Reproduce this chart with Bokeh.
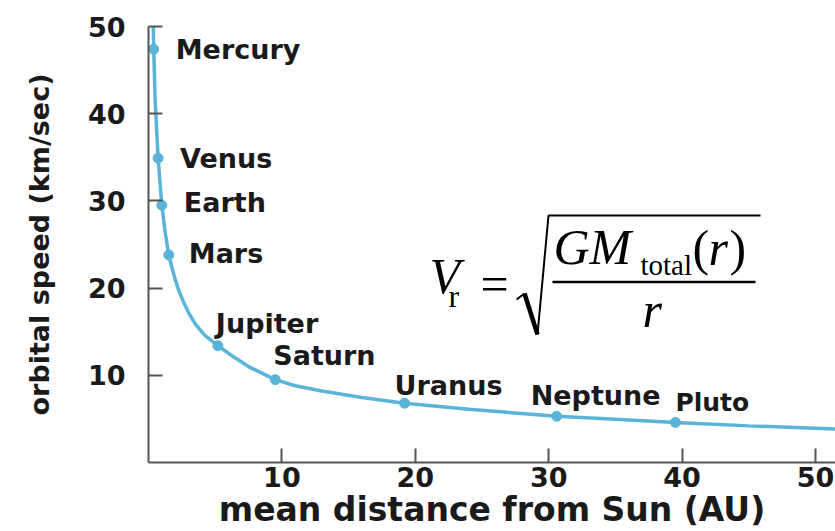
from bokeh.plotting import figure
from bokeh.models import ColumnDataSource, FixedTicker, Label
from bokeh.core.properties import value
from bokeh.embed import file_html
from bokeh.resources import INLINE

# Planets: mean distance from the Sun (AU) and orbital speed (km/s)
planets = ["Mercury", "Venus", "Earth", "Mars", "Jupiter",
           "Saturn", "Uranus", "Neptune", "Pluto"]
distance_au = [0.39, 0.72, 1.0, 1.52, 5.2, 9.5, 19.2, 30.6, 39.5]
speed_kms = [47.4, 34.9, 29.5, 23.8, 13.4, 9.5, 6.8, 5.3, 4.6]

# Points along the drawn rotation curve
curve_au = [0.36, 0.39, 0.5, 0.72, 1.0, 1.25, 1.52, 1.75, 2.0, 2.3, 2.6,
            3.0, 3.5, 4.2, 5.2, 6.2, 7.5, 9.5, 11.0, 13.0, 16.0, 19.2,
            24.0, 30.6, 35.0, 39.5, 45.0, 51.5]
curve_kms = [50.0, 47.4, 41.5, 34.9, 29.5, 26.4, 23.8, 22.4, 21.0, 19.6,
             18.5, 17.2, 15.9, 14.6, 13.4, 12.3, 11.0, 9.5, 8.8, 8.2,
             7.45, 6.8, 6.1, 5.3, 4.95, 4.6, 4.2, 3.85]

x_ticks = [10, 20, 30, 40, 50]
y_ticks = [10, 20, 30, 40, 50]

# Label placement (screen pixels) relative to each planet marker
label_dx = [22, 22, 22, 20, -2, -2, -10, -26, 0]
label_dy = [0, 0, -3, -1, -22, -24, -18, -21, -20]
label_size = ["27px"] * 8 + ["25px"]

BLUE = "#5ab4d8"
INK = "#1a1a1a"
BOLD_FONT = "DejaVu Sans"

X_END, Y_END = 51.5, 50
LEFT, RIGHT, TOP, BOTTOM = 148, 835, 26, 462

p = figure(width=835, height=531, x_range=(0, X_END), y_range=(0, Y_END),
           output_backend="svg", toolbar_location=None,
           min_border_left=LEFT, min_border_right=0,
           min_border_top=TOP, min_border_bottom=531 - BOTTOM)
p.outline_line_color = None
p.grid.visible = False
p.background_fill_color = "white"
p.border_fill_color = "white"

for ax, ticks in ((p.xaxis[0], x_ticks), (p.yaxis[0], y_ticks)):
    ax.ticker = FixedTicker(ticks=ticks)
    ax.minor_tick_line_color = None
    ax.major_tick_in = 14
    ax.major_tick_out = 0
    ax.major_tick_line_width = 2
    ax.major_tick_line_color = "#555555"
    ax.axis_line_width = 2
    ax.axis_line_color = "#555555"
    ax.major_label_text_font = BOLD_FONT
    ax.major_label_text_font_style = "bold"
    ax.major_label_text_font_size = "27px"
    ax.major_label_text_color = INK
    ax.axis_label_text_font = BOLD_FONT
    ax.axis_label_text_font_style = "bold"
    ax.axis_label_text_color = INK

p.xaxis.axis_label = "mean distance from Sun (AU)"
p.xaxis.axis_label_text_font_size = "33px"
p.xaxis.axis_label_text_line_height = 0.5
p.xaxis.major_label_standoff = 4
p.xaxis.axis_label_standoff = 0

p.yaxis.axis_label = "orbital speed (km/sec)"
p.yaxis.axis_label_text_font_size = "27px"
p.yaxis.major_label_standoff = 23
p.yaxis.axis_label_standoff = 30

# Rotation curve and planet markers
p.line(curve_au, curve_kms, line_color=BLUE, line_width=3.5)

src = ColumnDataSource(dict(x=distance_au, y=speed_kms, name=planets,
                            dx=label_dx, dy=label_dy, size=label_size))
p.scatter("x", "y", source=src, size=10, fill_color=BLUE, line_color=BLUE)
p.text("x", "y", text="name", source=src, x_offset="dx", y_offset="dy",
       text_font=value(BOLD_FONT), text_font_style="bold",
       text_font_size="size", text_color=INK,
       text_align="left", text_baseline="middle")

# Helpers mapping canvas pixels to data coordinates for the formula
SX = (RIGHT - LEFT) / X_END
SY = (BOTTOM - TOP) / Y_END


def gx(px):
    return (px - LEFT) / SX


def gy(py):
    return (BOTTOM - py) / SY


SERIF = "Liberation Serif"


def put(txt, px, base_py, size, style="normal"):
    # place serif text so that its baseline sits at canvas row base_py
    p.add_layout(Label(x=gx(px), y=gy(base_py - 0.37 * size), text=txt,
                       text_font=SERIF, text_font_size=f"{size}px",
                       text_font_style=style, text_color="black",
                       text_align="left", text_baseline="alphabetic"))


# Formula V_r = sqrt(G M_total(r) / r)
put("V", 429, 294, 50, "italic")
put("r", 448, 307, 32)
put("=", 480, 302, 50)
put("GM", 553, 265, 50, "italic")
put("total", 640, 275, 29)
put("(", 692, 266, 50)
put("r", 708, 266, 50, "italic")
put(")", 729, 266, 50)
put("r", 642, 328, 50, "italic")

# Radical sign and fraction bar
p.line([gx(516), gx(524)], [gy(299), gy(293)], line_color="black", line_width=2)
p.line([gx(524), gx(537)], [gy(293), gy(334)], line_color="black", line_width=4.5)
p.line([gx(537), gx(548), gx(760)], [gy(334), gy(215), gy(215)],
       line_color="black", line_width=2)
p.line([gx(552), gx(755)], [gy(281.5), gy(281.5)], line_color="black",
       line_width=2.5)

open("out.html", "w").write(file_html(p, INLINE))
